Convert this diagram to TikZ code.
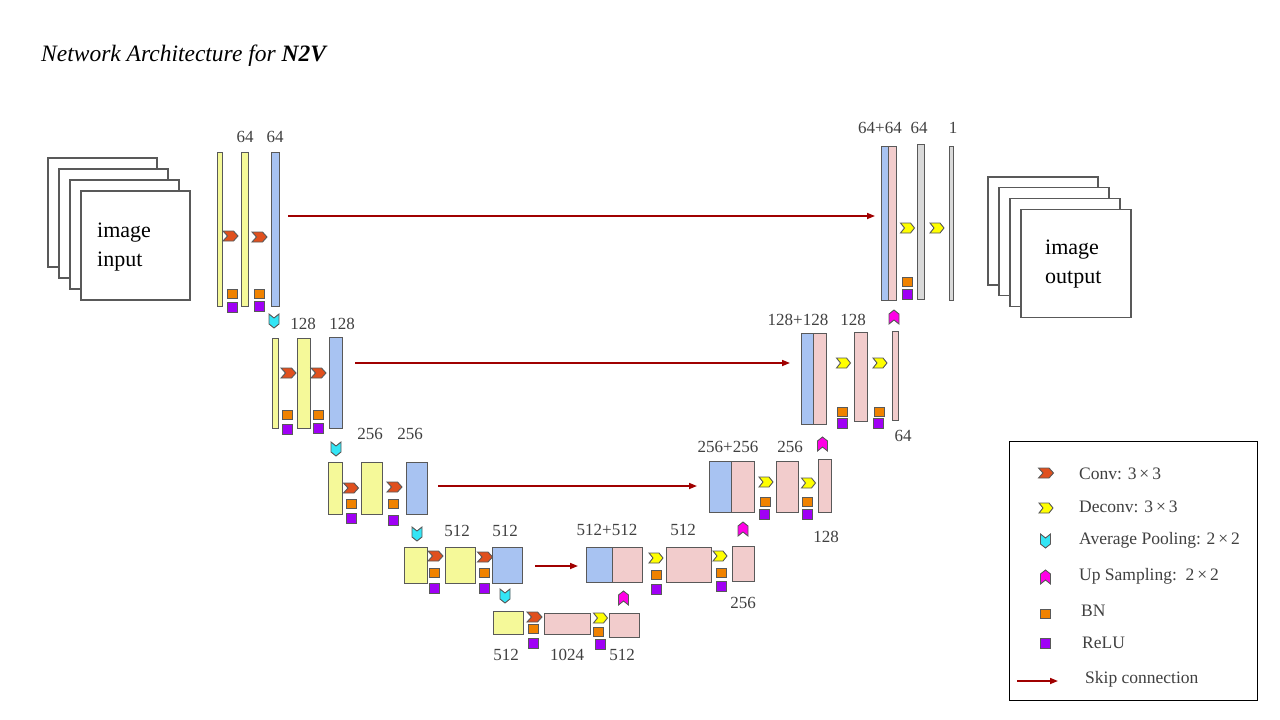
\documentclass[tikz,border=0pt]{standalone}
\usepackage{fontspec}
\setmainfont{Liberation Serif}
\usetikzlibrary{arrows.meta}

\definecolor{linec}{HTML}{595959}
\definecolor{textc}{HTML}{404040}
\definecolor{yellowc}{HTML}{F5F999}
\definecolor{bluec}{HTML}{A8C3F2}
\definecolor{pinkc}{HTML}{F2CCCC}
\definecolor{grayc}{HTML}{D9D9D9}
\definecolor{convc}{HTML}{E0501E}
\definecolor{deconvc}{HTML}{FFFF00}
\definecolor{poolc}{HTML}{33E5F5}
\definecolor{upc}{HTML}{FF00E6}
\definecolor{bnc}{HTML}{F08200}
\definecolor{reluc}{HTML}{A000F5}
\definecolor{skipc}{HTML}{A00000}

\tikzset{
  blk/.style={draw=linec, line width=0.9pt},
  frame/.style={draw=linec, line width=1.2pt, fill=white},
  lbl/.style={text=textc, inner sep=0pt, font=\fontsize{17}{20}\selectfont},
  legtext/.style={text=textc, inner sep=0pt, anchor=west, font=\fontsize{17.5}{21}\selectfont},
  imgtext/.style={inner sep=0pt, anchor=west, align=left, font=\fontsize{22}{29}\selectfont},
  skip/.style={draw=skipc, line width=1.6pt, -{Triangle[length=8pt,width=6pt]}},
  convmark/.pic={\draw[blk, fill=convc] (-7.5,-5) -- (3,-5) -- (7.5,0) -- (3,5) -- (-7.5,5) -- (-3,0) -- cycle;},
  deconvmark/.pic={\draw[blk, fill=deconvc] (-7,-5) -- (3,-5) -- (7,0) -- (3,5) -- (-7,5) -- (-3,0) -- cycle;},
  poolmark/.pic={\draw[blk, fill=poolc] (-5,-7) -- (0,-3) -- (5,-7) -- (5,3) -- (0,7) -- (-5,3) -- cycle;},
  upmark/.pic={\draw[blk, fill=upc] (-5,7) -- (0,3) -- (5,7) -- (5,-3) -- (0,-7) -- (-5,-3) -- cycle;},
  bnmark/.pic={\draw[blk, fill=bnc] (-5,-4.5) rectangle (5,4.5);},
  relumark/.pic={\draw[blk, fill=reluc] (-5,-5) rectangle (5,5);}
}

\begin{document}
\begin{tikzpicture}[x=1pt, y=-1pt]
  \useasboundingbox (0,0) rectangle (1280,720);
  \fill[white] (0,0) rectangle (1280,720);

  % Заголовок
  \node[anchor=west, inner sep=0pt, font=\fontsize{23.5}{28}\selectfont\itshape] (title) at (41,56)
    {Network Architecture for \textbf{N2V}};

  % Вход и выход
  \foreach \d in {0,1,2,3}
    \draw[frame] (48+11*\d,158+11*\d) rectangle ++(109,109);
  \node[imgtext] (inp) at (97,247) {image\\input};
  \foreach \d in {0,1,2,3}
    \draw[frame] (988+11*\d,177+10.7*\d) rectangle ++(110,108);
  \node[imgtext] (outp) at (1045,264) {image\\output};

  % Уровень 1 (кодер)
  \draw[blk, fill=yellowc] (217,152) rectangle (222,306);
  \draw[blk, fill=yellowc] (241,152) rectangle (248,306);
  \draw[blk, fill=bluec] (271,152) rectangle (279,306);
  \pic at (230.5,236) {convmark};
  \pic at (259.5,237) {convmark};
  \pic at (232.5,294) {bnmark};
  \pic at (232.5,307) {relumark};
  \pic at (259.5,294) {bnmark};
  \pic at (259.5,306.5) {relumark};
  \node[lbl] (e1a) at (245,137) {64};
  \node[lbl] (e1b) at (275,137) {64};

  % Уровень 2 (кодер)
  \pic at (274,321) {poolmark};
  \draw[blk, fill=yellowc] (272,338) rectangle (278,428);
  \draw[blk, fill=yellowc] (297,338) rectangle (310,428);
  \draw[blk, fill=bluec] (329,337) rectangle (342,428);
  \pic at (288.5,373) {convmark};
  \pic at (318.5,373) {convmark};
  \pic at (287,415) {bnmark};
  \pic at (287,429) {relumark};
  \pic at (318.5,415) {bnmark};
  \pic at (318,428.5) {relumark};
  \node[lbl] (e2a) at (303,324) {128};
  \node[lbl] (e2b) at (342,324) {128};

  % Уровень 3 (кодер)
  \pic at (336,449) {poolmark};
  \draw[blk, fill=yellowc] (328,462) rectangle (342,514);
  \draw[blk, fill=yellowc] (361,462) rectangle (382,514);
  \draw[blk, fill=bluec] (406,462) rectangle (427,514);
  \pic at (351,488) {convmark};
  \pic at (394.5,487) {convmark};
  \pic at (351.5,503.5) {bnmark};
  \pic at (351.5,518) {relumark};
  \pic at (393,503.5) {bnmark};
  \pic at (393,520) {relumark};
  \node[lbl] (e3a) at (370,434) {256};
  \node[lbl] (e3b) at (410,434) {256};

  % Уровень 4 (кодер)
  \pic at (417,534) {poolmark};
  \draw[blk, fill=yellowc] (404,547) rectangle (427,583);
  \draw[blk, fill=yellowc] (445,547) rectangle (475,583);
  \draw[blk, fill=bluec] (492,547) rectangle (522,583);
  \pic at (435.5,556) {convmark};
  \pic at (485,557) {convmark};
  \pic at (434,572.5) {bnmark};
  \pic at (434,588.5) {relumark};
  \pic at (484,572.5) {bnmark};
  \pic at (484,588.5) {relumark};
  \node[lbl] (e4a) at (457,531) {512};
  \node[lbl] (e4b) at (505,531) {512};

  % Дно
  \pic at (505,596) {poolmark};
  \draw[blk, fill=yellowc] (493,611) rectangle (523,634);
  \draw[blk, fill=pinkc] (544,613) rectangle (590,634);
  \draw[blk, fill=pinkc] (609,613) rectangle (639,637);
  \pic at (534.5,617) {convmark};
  \pic at (600.5,618) {deconvmark};
  \pic at (533,629) {bnmark};
  \pic at (533,643) {relumark};
  \pic at (598,632) {bnmark};
  \pic at (600,644) {relumark};
  \pic at (623.5,598) {upmark};
  \node[lbl] (b1) at (506,655) {512};
  \node[lbl] (b2) at (567,655) {1024};
  \node[lbl] (b3) at (622,655) {512};

  % Уровень 4 (декодер)
  \draw[blk, fill=bluec] (586,547) rectangle (612,582);
  \draw[blk, fill=pinkc] (612,547) rectangle (642,582);
  \pic at (656,558) {deconvmark};
  \pic at (656,575) {bnmark};
  \pic at (656,589) {relumark};
  \draw[blk, fill=pinkc] (666,547) rectangle (711,582);
  \pic at (720,556) {deconvmark};
  \pic at (721,572.5) {bnmark};
  \pic at (721,586) {relumark};
  \draw[blk, fill=pinkc] (732,546) rectangle (754,581);
  \pic at (743,529) {upmark};
  \node[lbl] (d4a) at (607,530) {512+512};
  \node[lbl] (d4b) at (683,530) {512};
  \node[lbl] (d4c) at (743,603) {256};

  % Уровень 3 (декодер)
  \draw[blk, fill=bluec] (709,461) rectangle (731,512);
  \draw[blk, fill=pinkc] (731,461) rectangle (754,512);
  \pic at (766,482) {deconvmark};
  \pic at (765.5,502) {bnmark};
  \pic at (764.5,514.5) {relumark};
  \draw[blk, fill=pinkc] (776,461) rectangle (798,512);
  \pic at (808.5,483) {deconvmark};
  \pic at (807.5,502) {bnmark};
  \pic at (807.5,514) {relumark};
  \draw[blk, fill=pinkc] (818,459) rectangle (831,512);
  \pic at (822.5,444) {upmark};
  \node[lbl] (d3a) at (728,447) {256+256};
  \node[lbl] (d3b) at (790,447) {256};
  \node[lbl] (d3c) at (826,537) {128};

  % Уровень 2 (декодер)
  \draw[blk, fill=bluec] (801,333) rectangle (813,424);
  \draw[blk, fill=pinkc] (813,333) rectangle (826,424);
  \pic at (843.5,363) {deconvmark};
  \pic at (842,411.5) {bnmark};
  \pic at (842,423.5) {relumark};
  \draw[blk, fill=pinkc] (854,332) rectangle (867,421);
  \pic at (880,363) {deconvmark};
  \pic at (879,411.5) {bnmark};
  \pic at (878,423) {relumark};
  \draw[blk, fill=pinkc] (892,331) rectangle (898,420);
  \pic at (894,317) {upmark};
  \node[lbl] (d2a) at (798,320) {128+128};
  \node[lbl] (d2b) at (853,320) {128};
  \node[lbl] (d2c) at (903,436) {64};

  % Уровень 1 (декодер)
  \draw[blk, fill=bluec] (881,146) rectangle (888,300);
  \draw[blk, fill=pinkc] (888,146) rectangle (896,300);
  \pic at (907.5,228) {deconvmark};
  \pic at (907,281.5) {bnmark};
  \pic at (907,294) {relumark};
  \draw[blk, fill=grayc] (917,144) rectangle (924,299);
  \pic at (937,228) {deconvmark};
  \draw[blk, fill=grayc] (949,146) rectangle (953,300);
  \node[lbl] (d1a) at (880,128) {64+64};
  \node[lbl] (d1b) at (919,128) {64};
  \node[lbl] (d1c) at (953,128) {1};

  % Пропускающие связи
  \coordinate (s1a) at (288,216);
  \coordinate (s1b) at (875,216);
  \coordinate (s2a) at (355,363);
  \coordinate (s2b) at (790,363);
  \coordinate (s3a) at (438,486);
  \coordinate (s3b) at (697,486);
  \coordinate (s4a) at (535,566);
  \coordinate (s4b) at (578,566);
  \draw[skip] (s1a) -- (s1b);
  \draw[skip] (s2a) -- (s2b);
  \draw[skip] (s3a) -- (s3b);
  \draw[skip] (s4a) -- (s4b);

  % Легенда
  \draw[black, line width=0.9pt] (1009,441) rectangle (1257,700);
  \pic at (1046,473) {convmark};
  \node[legtext] (lg1) at (1079,474) {Conv: 3\,×\,3};
  \pic at (1046,508) {deconvmark};
  \node[legtext] (lg2) at (1079,507) {Deconv: 3\,×\,3};
  \pic at (1045.5,541) {poolmark};
  \node[legtext] (lg3) at (1079,540) {Average Pooling: 2\,×\,2};
  \pic at (1045.5,577) {upmark};
  \node[legtext] (lg4) at (1079,576) {Up Sampling: \,2\,×\,2};
  \pic at (1045,614) {bnmark};
  \node[legtext] (lg5) at (1081,611) {BN};
  \pic at (1045,643.5) {relumark};
  \node[legtext] (lg6) at (1082,643) {ReLU};
  \coordinate (lga) at (1017,681);
  \coordinate (lgb) at (1058,681);
  \draw[skip] (lga) -- (lgb);
  \node[legtext] (lg7) at (1085,679) {Skip connection};
\end{tikzpicture}
\end{document}
